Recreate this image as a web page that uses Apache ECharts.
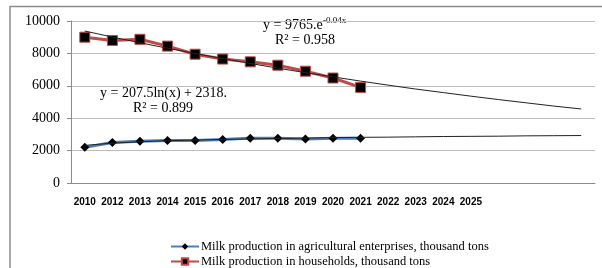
<!DOCTYPE html>
<html>
<head>
<meta charset="utf-8">
<script src="https://cdn.jsdelivr.net/npm/echarts@6/dist/echarts.min.js"></script>
<style>
  html, body { margin: 0; padding: 0; background: #fff; }
  #chart { width: 602px; height: 268px; }
</style>
</head>
<body>
<div id="chart"></div>
<script>
// axis labels (the 2011 label is missing in the source chart, last 4 slots unlabeled)
var years = ['2010', '2012', '2013', '2014', '2015', '2016', '2017', '2018', '2019', '2020', '2021',
  '2022', '2023', '2024', '2025', '', '', '', ''];
var yTicks = [0, 2000, 4000, 6000, 8000, 10000];

// observed values, thousand tons
var enterprises = [2200, 2500, 2570, 2620, 2630, 2690, 2770, 2770, 2720, 2770, 2770];
var households = [9000, 8800, 8870, 8450, 7950, 7650, 7480, 7270, 6900, 6480, 5900];

// trend lines
var expTrend = [9380, 9010, 8660, 8320, 7990, 7680, 7380, 7090, 6810, 6550, 6290, 6040, 5800, 5580, 5360, 5150, 4950, 4750, 4570];
var logTrend = [2320, 2460, 2550, 2610, 2650, 2690, 2720, 2750, 2770, 2800, 2820, 2830, 2850, 2870, 2880, 2890, 2910, 2920, 2930];

var nameEnt = 'Milk production in agricultural enterprises, thousand tons';
var nameHh = 'Milk production in households, thousand tons';
var serif = 'Liberation Serif';

function legendRow(name, top) {
  return {
    left: 170,
    top: top,
    itemWidth: 28,
    itemHeight: 8,
    padding: 0,
    textStyle: { fontFamily: serif, fontSize: 12.5, color: '#000', padding: [0, 0, 0, -3] },
    data: [name]
  };
}

var chart = echarts.init(document.getElementById('chart'));
chart.setOption({
  animation: false,
  backgroundColor: '#fff',
  grid: { left: 71, right: 7, top: 21, bottom: 85 },
  xAxis: {
    type: 'category',
    data: years,
    boundaryGap: true,
    axisLine: { lineStyle: { color: '#8c8c8c' } },
    axisTick: { length: 4, lineStyle: { color: '#8c8c8c' } },
    axisLabel: { interval: 0, margin: 14, color: '#000', fontFamily: 'Liberation Sans', fontWeight: 'bold', fontSize: 10 }
  },
  yAxis: {
    type: 'value',
    min: yTicks[0],
    max: yTicks[yTicks.length - 1],
    interval: 2000,
    axisLine: { show: true, lineStyle: { color: '#8c8c8c' } },
    axisTick: { show: true, length: 4, lineStyle: { color: '#8c8c8c' } },
    axisLabel: { margin: 11, color: '#000', fontFamily: serif, fontSize: 14, formatter: function (v) { return String(v); } },
    splitLine: { lineStyle: { color: '#bdbdbd' } }
  },
  legend: [legendRow(nameEnt, 240), legendRow(nameHh, 255)],
  series: [
    {
      name: nameEnt,
      type: 'line',
      data: enterprises,
      symbol: 'diamond',
      symbolSize: 9,
      lineStyle: { color: '#4a7ebb', width: 3 },
      itemStyle: { color: '#000', borderColor: '#000', borderWidth: 0 },
      z: 2
    },
    {
      name: nameHh,
      type: 'line',
      data: households,
      symbol: 'rect',
      symbolSize: 10,
      lineStyle: { color: '#be4b48', width: 3 },
      itemStyle: { color: '#000', borderColor: '#be4b48', borderWidth: 1 },
      z: 2
    },
    {
      type: 'line',
      data: expTrend,
      symbol: 'none',
      lineStyle: { color: '#222', width: 1 },
      z: 3,
      silent: true
    },
    {
      type: 'line',
      data: logTrend,
      symbol: 'none',
      lineStyle: { color: '#222', width: 1 },
      z: 3,
      silent: true
    }
  ],
  graphic: [
    { type: 'rect', shape: { x: 10, y: 6.5, width: 700, height: 400 }, style: { fill: 'none', stroke: '#8c8c8c', lineWidth: 1.5 }, silent: true },
    { type: 'text', left: 263, top: 18, style: { text: 'y = 9765.e', font: '14px "Liberation Serif"', fill: '#000' } },
    { type: 'text', left: 323, top: 16, style: { text: '-0.04x', font: '9px "Liberation Serif"', fill: '#000' } },
    { type: 'text', left: 275, top: 33, style: { text: 'R² = 0.958', font: '14px "Liberation Serif"', fill: '#000' } },
    { type: 'text', left: 100, top: 86, style: { text: 'y = 207.5ln(x) + 2318.', font: '14px "Liberation Serif"', fill: '#000' } },
    { type: 'text', left: 133, top: 101, style: { text: 'R² = 0.899', font: '14px "Liberation Serif"', fill: '#000' } }
  ]
});
</script>
</body>
</html>
